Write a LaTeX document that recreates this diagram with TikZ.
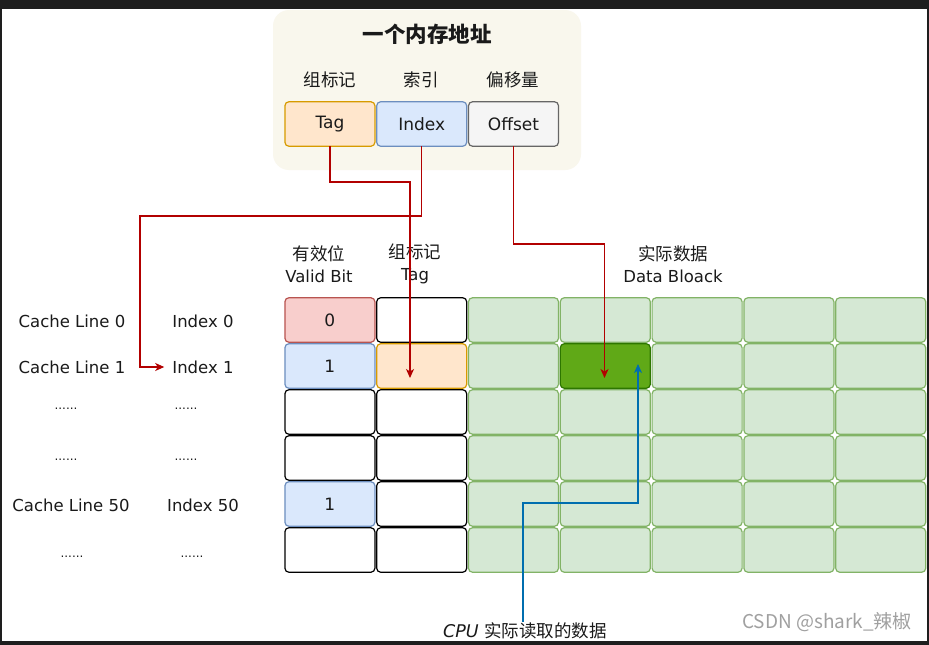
\documentclass[tikz,border=0pt]{standalone}
\usepackage{fontspec}
\setmainfont{DejaVu Sans}
\newfontfamily\cjk{Noto Sans CJK SC}
\usetikzlibrary{arrows.meta}

\definecolor{frame}{HTML}{1E1E1E}
\definecolor{paper}{HTML}{F9F7ED}
\definecolor{tagfill}{HTML}{FFE6CC}
\definecolor{tagline}{HTML}{D79B00}
\definecolor{idxfill}{HTML}{DAE8FC}
\definecolor{idxline}{HTML}{6C8EBF}
\definecolor{offfill}{HTML}{F5F5F5}
\definecolor{offline}{HTML}{666666}
\definecolor{badfill}{HTML}{F8CECC}
\definecolor{badline}{HTML}{B85450}
\definecolor{datfill}{HTML}{D5E8D4}
\definecolor{datline}{HTML}{82B366}
\definecolor{hitfill}{HTML}{60A917}
\definecolor{hitline}{HTML}{2D7600}
\definecolor{redarrow}{HTML}{B20000}
\definecolor{bluearrow}{HTML}{006EAF}
\definecolor{ink}{HTML}{1A1A1A}
\definecolor{mark}{HTML}{A0A0A0}

\tikzset{
  txt/.style={inner sep=1pt, text=ink, font=\fontsize{16.5}{22}\selectfont},
  cn/.style={inner sep=1pt, text=ink, font=\cjk\fontsize{17.5}{22}\selectfont},
  dots/.style={inner sep=0pt, anchor=base, text=ink, font=\fontsize{12}{14}\selectfont},
  cell/.style={draw, rounded corners=4pt, line width=1.2pt, minimum width=90pt,
    minimum height=44.5pt, inner sep=0pt, outer sep=0pt, text=ink,
    font=\fontsize{17}{20}\selectfont},
  plaincell/.style={cell, draw=black, fill=white},
  validcell/.style={cell, draw=idxline, fill=idxfill},
  invalidcell/.style={cell, draw=badline, fill=badfill},
  tagcell/.style={cell, draw=tagline, fill=tagfill},
  datacell/.style={cell, draw=datline, fill=datfill},
  hitcell/.style={cell, draw=hitline, fill=hitfill},
  redline/.style={draw=redarrow, line width=1.2pt, -{Stealth[length=9pt,width=8pt,inset=2.5pt]}},
  blueline/.style={draw=bluearrow, line width=1.2pt, -{Stealth[length=9pt,width=8pt,inset=2.5pt]}},
}

\begin{document}
\begin{tikzpicture}[x=1pt,y=-1pt]
% dark window frame around the white canvas
\fill[frame] (0,0) rectangle (929,645);
\fill[white] (2,9) rectangle (927,641);
\useasboundingbox (0,0) rectangle (929,645);

% ---- memory address panel ----
\node[fill=paper, rounded corners=16pt, minimum width=308pt, minimum height=160pt,
  inner sep=0pt] (panel) at (427,90) {};
\node[inner sep=1pt, text=ink, font=\cjk\bfseries\fontsize{21.5}{24}\selectfont]
  (title) at (427,34) {一个内存地址};
\node[cn] (lbltag) at (330,80) {组标记};
\node[cn] (lblidx) at (421,80) {索引};
\node[cn] (lbloff) at (513,80) {偏移量};
\node[tagcell] (tagA) at (329.9,124) {Tag};
\node[validcell] (idxA) at (421.7,124) {Index};
\node[cell, draw=offline, fill=offfill] (offA) at (513.5,124) {Offset};

% ---- column headers ----
\node[txt, align=center] (hvalid) at (319,264) {{\cjk\fontsize{17.5}{22}\selectfont 有效位}\\Valid Bit};
\node[txt, align=center] (htag) at (415,264) {{\cjk\fontsize{17.5}{22}\selectfont 组标记}\\Tag};
\node[txt, align=center] (hdata) at (673,264) {{\cjk\fontsize{17.5}{22}\selectfont 实际数据}\\Data Bloack};

% ---- row labels ----
\node[txt] (cl0) at (72,321) {Cache Line 0};
\node[txt] (ix0) at (203,321) {Index 0};
\node[txt] (cl1) at (72,367) {Cache Line 1};
\node[txt] (ix1) at (203,367) {Index 1};
\node[dots] (cl2) at (66,409) {......};
\node[dots] (ix2) at (186,409) {......};
\node[dots] (cl3) at (66,460) {......};
\node[dots] (ix3) at (186,460) {......};
\node[txt] (cl50) at (71,505) {Cache Line 50};
\node[txt] (ix50) at (203,505) {Index 50};
\node[dots] (cl5) at (72,557) {......};
\node[dots] (ix5) at (192,557) {......};

% ---- valid bit and tag columns ----
\node[invalidcell] (v0) at (329.9,320) {0};
\node[validcell]   (v1) at (329.9,366) {1};
\node[plaincell]   (v2) at (329.9,412) {};
\node[plaincell]   (v3) at (329.9,458) {};
\node[validcell]   (v4) at (329.9,504) {1};
\node[plaincell]   (v5) at (329.9,550) {};
\node[plaincell]   (t0) at (421.7,320) {};
\node[tagcell]     (t1) at (421.7,366) {};
\node[plaincell]   (t2) at (421.7,412) {};
\node[plaincell]   (t3) at (421.7,458) {};
\node[plaincell]   (t4) at (421.7,504) {};
\node[plaincell]   (t5) at (421.7,550) {};

% ---- data block cells (row 1, block 1 holds the requested data) ----
\foreach \r in {0,...,5}{
  \foreach \c in {0,...,4}{
    \ifnum\r\c=11
      \node[hitcell] (d\r\c) at ({513.5+91.8*\c},{320+46*\r}) {};
    \else
      \node[datacell] (d\r\c) at ({513.5+91.8*\c},{320+46*\r}) {};
    \fi
  }
}

% ---- CPU read label and watermark ----
\node[inner sep=1pt, text=ink, font=\fontsize{17.5}{20}\selectfont] (cpu) at (525,631)
  {\textit{CPU} {\cjk 实际读取的数据}};
\node[inner sep=0pt, text=mark, font=\cjk\fontsize{19}{22}\selectfont] (wm) at (827,622)
  {CSDN @shark\_辣椒};

% ---- arrow end points inside the cells ----
\coordinate (tagtip) at (410,378);
\coordinate (datatip) at (604.5,378);
\coordinate (cputip) at (638,364);

% ---- connectors ----
\draw[redline] (tagA.south) -- (tagA.south |- 0,182) -| (tagtip);
\draw[redline, shorten >=7pt] (idxA.south) -- (idxA.south |- 0,216) -| (140,367) -- (ix1.west);
\draw[redline] (offA.south) -- (offA.south |- 0,244) -| (datatip);
\draw[blueline] (cpu.north -| 523,0) -- (523,503) -| (cputip);
\end{tikzpicture}
\end{document}
